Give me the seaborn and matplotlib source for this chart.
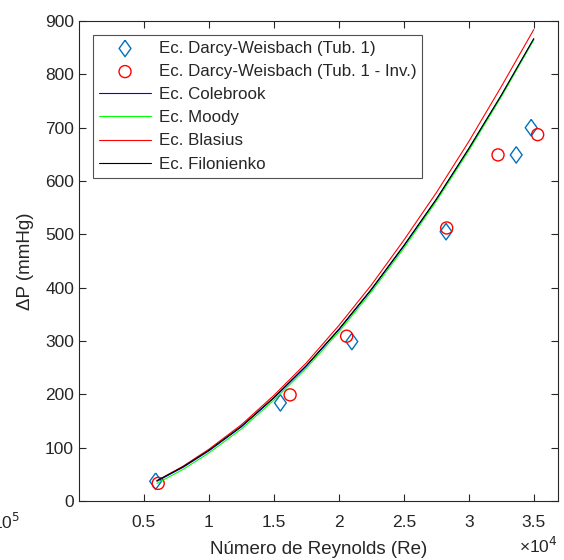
import numpy as np
import pandas as pd
import matplotlib
matplotlib.use("Agg")
import matplotlib.pyplot as plt
import seaborn as sns
from matplotlib.ticker import FuncFormatter

# measured points (Re, mmHg)
re_tub1 = [5900, 15500, 21000, 28250, 33650, 34800]
dp_tub1 = [37, 184, 299, 505, 649, 700]
re_inv = [6100, 16250, 20600, 28300, 32250, 35300]
dp_inv = [33, 199, 309, 512, 649, 687]

# correlation curves
re_curve = [6000, 8000, 10000, 12500, 15000, 17500, 20000, 22500, 25000, 27500, 30000, 32500, 35000]
dp_colebrook = [37, 63, 94, 139, 193, 253, 321, 396, 478, 565, 660, 760, 866]
dp_moody = [33, 59, 90, 135, 189, 249, 317, 392, 474, 562, 657, 758, 865]
dp_blasius = [38, 65, 97, 143, 198, 259, 329, 405, 489, 578, 674, 777, 884]
dp_filonienko = [38, 64, 95, 140, 194, 254, 322, 397, 479, 566, 661, 761, 867]

sns.set_style("white")
plt.rcParams["font.family"] = ["Liberation Sans", "DejaVu Sans"]

grey = "#262626"
diamond = [(0, 1), (0.72, 0), (0, -1), (-0.72, 0), (0, 1)]

fig = plt.figure(figsize=(5.64, 5.60), dpi=100)
ax = fig.add_axes([0.140, 0.1054, 0.849, 0.857])

df_t = pd.DataFrame({"Re": re_tub1, "dP": dp_tub1})
df_i = pd.DataFrame({"Re": re_inv, "dP": dp_inv})
sns.scatterplot(data=df_t, x="Re", y="dP", ax=ax, marker=diamond, s=140,
                facecolors="none", edgecolor="#0072BD", linewidth=1.0,
                label="Ec. Darcy-Weisbach (Tub. 1)", zorder=2)
sns.scatterplot(data=df_i, x="Re", y="dP", ax=ax, marker="o", s=75,
                facecolors="none", edgecolor="#FF0000", linewidth=1.0,
                label="Ec. Darcy-Weisbach (Tub. 1 - Inv.)", zorder=2)

curves = [
    (dp_colebrook, "#0000FF", "Ec. Colebrook"),
    (dp_moody, "#00FF00", "Ec. Moody"),
    (dp_blasius, "#FF0000", "Ec. Blasius"),
    (dp_filonienko, "#000000", "Ec. Filonienko"),
]
for vals, col, lab in curves:
    sns.lineplot(x=re_curve, y=vals, ax=ax, color=col, linewidth=0.8,
                 label=lab, zorder=3)

ax.set_xlim(0, 36850)
ax.set_ylim(0, 900)
ax.set_xticks(np.arange(5000, 35001, 5000))
ax.set_yticks(np.arange(0, 901, 100))
ax.xaxis.set_major_formatter(FuncFormatter(lambda v, p: f"{v/1e4:g}"))

for sp in ax.spines.values():
    sp.set_color(grey)
    sp.set_linewidth(0.8)
ax.tick_params(direction="in", length=5, width=0.8, color=grey,
               labelcolor=grey, labelsize=12.5, top=True, right=True,
               bottom=True, left=True)
ax.tick_params(axis="x", pad=10)

ax.set_xlabel("Número de Reynolds (Re)", fontsize=13.5, color=grey, labelpad=8)
ax.set_ylabel("ΔP (mmHg)", fontsize=13.5, color=grey, labelpad=8)
ax.text(1.0, -0.094, "×10$^{4}$", transform=ax.transAxes, ha="right", va="center",
        fontsize=12.5, color=grey)
fig.text(0.036, 0.068, "×10$^{5}$", ha="right", va="center", fontsize=12.5, color=grey)

leg = ax.legend(loc="upper left", bbox_to_anchor=(0.029, 0.971), borderaxespad=0,
                fontsize=12.2, frameon=True, fancybox=False, edgecolor="#262626",
                handlelength=3.1, labelspacing=0.48, borderpad=0.35, handletextpad=0.45)
leg.get_frame().set_linewidth(0.8)

fig.savefig("out.png", dpi=100)
